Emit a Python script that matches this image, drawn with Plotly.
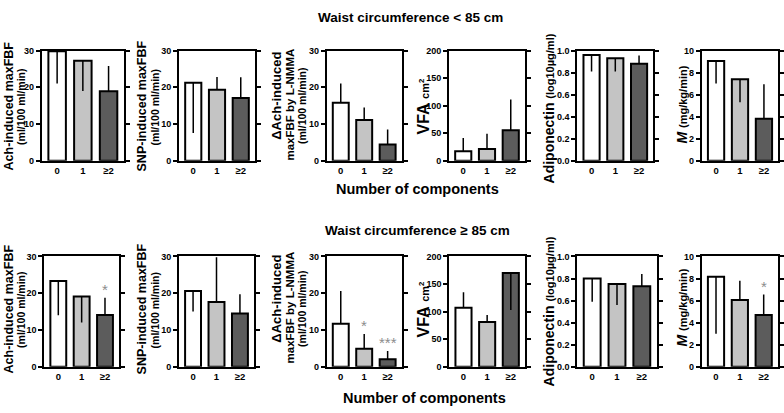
import plotly.graph_objects as go

categories = ["0", "1", "≥2"]

# Top row: waist < 85 cm
top_ach = [29.8, 27.2, 18.9]
top_ach_sd = [8.8, 8.2, 6.9]
top_ach_dir = [-1, -1, 1]
top_snp = [21.2, 19.3, 17.1]
top_snp_sd = [13.7, 3.5, 5.6]
top_snp_dir = [-1, 1, 1]
top_dach = [15.8, 11.1, 4.4]
top_dach_sd = [5.2, 3.4, 4.1]
top_dach_dir = [1, 1, 1]
top_vfa = [17, 21, 55]
top_vfa_sd = [24, 28, 56]
top_vfa_dir = [1, 1, 1]
top_adip = [0.96, 0.93, 0.88]
top_adip_sd = [0.15, 0.12, 0.075]
top_adip_dir = [-1, -1, 1]
top_m = [9.05, 7.4, 3.8]
top_m_sd = [2.05, 2.1, 3.15]
top_m_dir = [-1, -1, 1]

# Bottom row: waist >= 85 cm
bot_ach = [23.3, 19.1, 14.1]
bot_ach_sd = [9.3, 7.1, 4.7]
bot_ach_dir = [-1, -1, 1]
bot_ach_sig = ["", "", "*"]
bot_snp = [20.6, 17.6, 14.5]
bot_snp_sd = [5.6, 12.2, 5.2]
bot_snp_dir = [-1, 1, 1]
bot_dach = [11.7, 4.9, 2.0]
bot_dach_sd = [8.9, 4.0, 2.3]
bot_dach_dir = [1, 1, 1]
bot_dach_sig = ["", "*", "***"]
bot_vfa = [107, 81, 170]
bot_vfa_sd = [28, 13, 67]
bot_vfa_dir = [1, 1, -1]
bot_adip = [0.80, 0.75, 0.73]
bot_adip_sd = [0.21, 0.19, 0.11]
bot_adip_dir = [-1, -1, 1]
bot_m = [8.15, 6.05, 4.7]
bot_m_sd = [5.15, 1.75, 1.85]
bot_m_dir = [-1, 1, 1]
bot_m_sig = ["", "", "*"]

y_ranges = [[0, 30], [0, 30], [0, 30], [0, 200], [0, 1.0], [0, 10]]
y_dtick = [10, 10, 10, 50, 0.2, 2]
y_fmt = ["", "", "", "", ".1f", ""]

W, H = 784, 413
FONT = "Liberation Sans, Arial, sans-serif"
bar_colors = ["#ffffff", "#c4c4c4", "#5c5c5c"]

rows = [
    dict(data=[(top_ach, top_ach_sd, top_ach_dir, None), (top_snp, top_snp_sd, top_snp_dir, None),
               (top_dach, top_dach_sd, top_dach_dir, None), (top_vfa, top_vfa_sd, top_vfa_dir, None),
               (top_adip, top_adip_sd, top_adip_dir, None), (top_m, top_m_sd, top_m_dir, None)],
         cols=[(41.7, 124), (179, 255), (326.7, 401.7), (449, 525), (577.3, 653.3), (701.7, 778.3)],
         ytop=46.7, ybot=159.5),
    dict(data=[(bot_ach, bot_ach_sd, bot_ach_dir, bot_ach_sig), (bot_snp, bot_snp_sd, bot_snp_dir, None),
               (bot_dach, bot_dach_sd, bot_dach_dir, bot_dach_sig), (bot_vfa, bot_vfa_sd, bot_vfa_dir, None),
               (bot_adip, bot_adip_sd, bot_adip_dir, None), (bot_m, bot_m_sd, bot_m_dir, bot_m_sig)],
         cols=[(44.3, 119), (179, 254), (326.7, 401.7), (449.3, 525), (577.3, 656.7), (701.7, 778)],
         ytop=257.7, ybot=370.7),
]

fig = go.Figure()
layout = {}
annotations = []
xpos = [0, 1, 2]
n = 0
for r, row in enumerate(rows):
    for c, (vals, sd, dr, sig) in enumerate(row["data"]):
        n += 1
        sfx = "" if n == 1 else str(n)
        up = [s if d > 0 else 0 for s, d in zip(sd, dr)]
        dn = [s if d < 0 else 0 for s, d in zip(sd, dr)]
        fig.add_trace(go.Bar(
            x=xpos, y=vals, xaxis="x" + sfx, yaxis="y" + sfx,
            marker=dict(color=bar_colors, line=dict(color="black", width=2)),
            error_y=dict(type="data", symmetric=False, array=up, arrayminus=dn,
                         color="black", thickness=1.5, width=0),
            showlegend=False, hoverinfo="skip"))
        x0, x1 = row["cols"][c]
        dom_x = [x0 / W, x1 / W]
        dom_y = [1 - row["ybot"] / H, 1 - row["ytop"] / H]
        layout["xaxis" + sfx] = dict(
            domain=dom_x, anchor="y" + sfx, range=[-0.6, 2.6], tickvals=xpos, ticktext=categories,
            ticks="", showline=True, linewidth=2, linecolor="black", mirror=True,
            showgrid=False, zeroline=False, fixedrange=True,
            tickfont=dict(family=FONT, size=9.5, color="black", weight="bold"))
        layout["xaxis" + str(12 + n)] = dict(
            overlaying="x" + sfx, anchor="y" + sfx, side="top", range=[-0.6, 2.6], tickvals=xpos,
            ticks="outside", ticklen=4, tickwidth=2, tickcolor="black",
            showticklabels=False, showline=False, showgrid=False, zeroline=False)
        layout["yaxis" + sfx] = dict(
            domain=dom_y, anchor="x" + sfx, range=y_ranges[c], dtick=y_dtick[c], tick0=0,
            tickformat=y_fmt[c], ticks="outside", ticklen=4, tickwidth=2, tickcolor="black",
            showline=True, linewidth=2, linecolor="black", mirror="ticks",
            showgrid=False, zeroline=False,
            tickfont=dict(family=FONT, size=9, color="black", weight="bold"))
        if sig:
            for i, s in enumerate(sig):
                if s:
                    annotations.append(dict(
                        x=xpos[i], y=vals[i] + up[i], xref="x" + sfx, yref="y" + sfx,
                        text=s, showarrow=False, yanchor="bottom", yshift=-2,
                        font=dict(family=FONT, size=15, color="#8c8c8c")))

fig.update_layout(**layout)


def txt(text, x, y, size, angle=0):
    annotations.append(dict(text=text, x=x / W, y=1 - y / H, xref="paper", yref="paper",
                            showarrow=False, textangle=angle, xanchor="center", yanchor="middle",
                            font=dict(family=FONT, size=size, color="black")))


# headings
txt("<b>Waist circumference < 85 cm</b>", 410, 13, 13.5)
txt("<b>Number of components</b>", 417, 189, 14.5)
txt("<b>Waist circumference ≥ 85 cm</b>", 417, 231, 13.5)
txt("<b>Number of components</b>", 424, 403, 14.5)

# y titles
for r, yc in enumerate([104, 312]):
    txt("<b>Ach-induced maxFBF</b>", 9, yc, 12.5, -90)
    txt("<b>(ml/100 ml/min)</b>", 21.5, yc + 1, 10.5, -90)
    txt("<b>SNP-induced maxFBF</b>", 142, yc, 12.5, -90)
    txt("<b>(ml/100 ml/min)</b>", 155, yc + 1, 10.5, -90)
    txt("<b>ΔAch-induced</b>", 277, yc - 11, 13, -90)
    txt("<b>maxFBF by L-NMMA</b>", 290, yc - 2, 11.5, -90)
    txt("<b>(ml/100 ml/min)</b>", 302.5, yc, 10.5, -90)
    txt("<b>VFA</b> <b><span style='font-size:11px'>cm<sup>2</sup></span></b>", 423, yc, 16, -90)
    txt("<b>Adiponectin</b> <b><span style='font-size:11px'>(log10µg/ml)</span></b>", 549, yc + 2, 14, -90)
    txt("<b><i>M</i></b> <b><span style='font-size:11px'>(mg/kg/min)</span></b>", 682, yc - 2, 14, -90)

fig.update_layout(
    width=W, height=H, margin=dict(l=0, r=0, t=0, b=0),
    paper_bgcolor="white", plot_bgcolor="white",
    bargap=0.32, annotations=annotations,
    font=dict(family=FONT, color="black"))

fig.write_html("out.html", config={"displayModeBar": False},
               post_script="document.body.style.margin='0';document.body.style.overflow='hidden';")
